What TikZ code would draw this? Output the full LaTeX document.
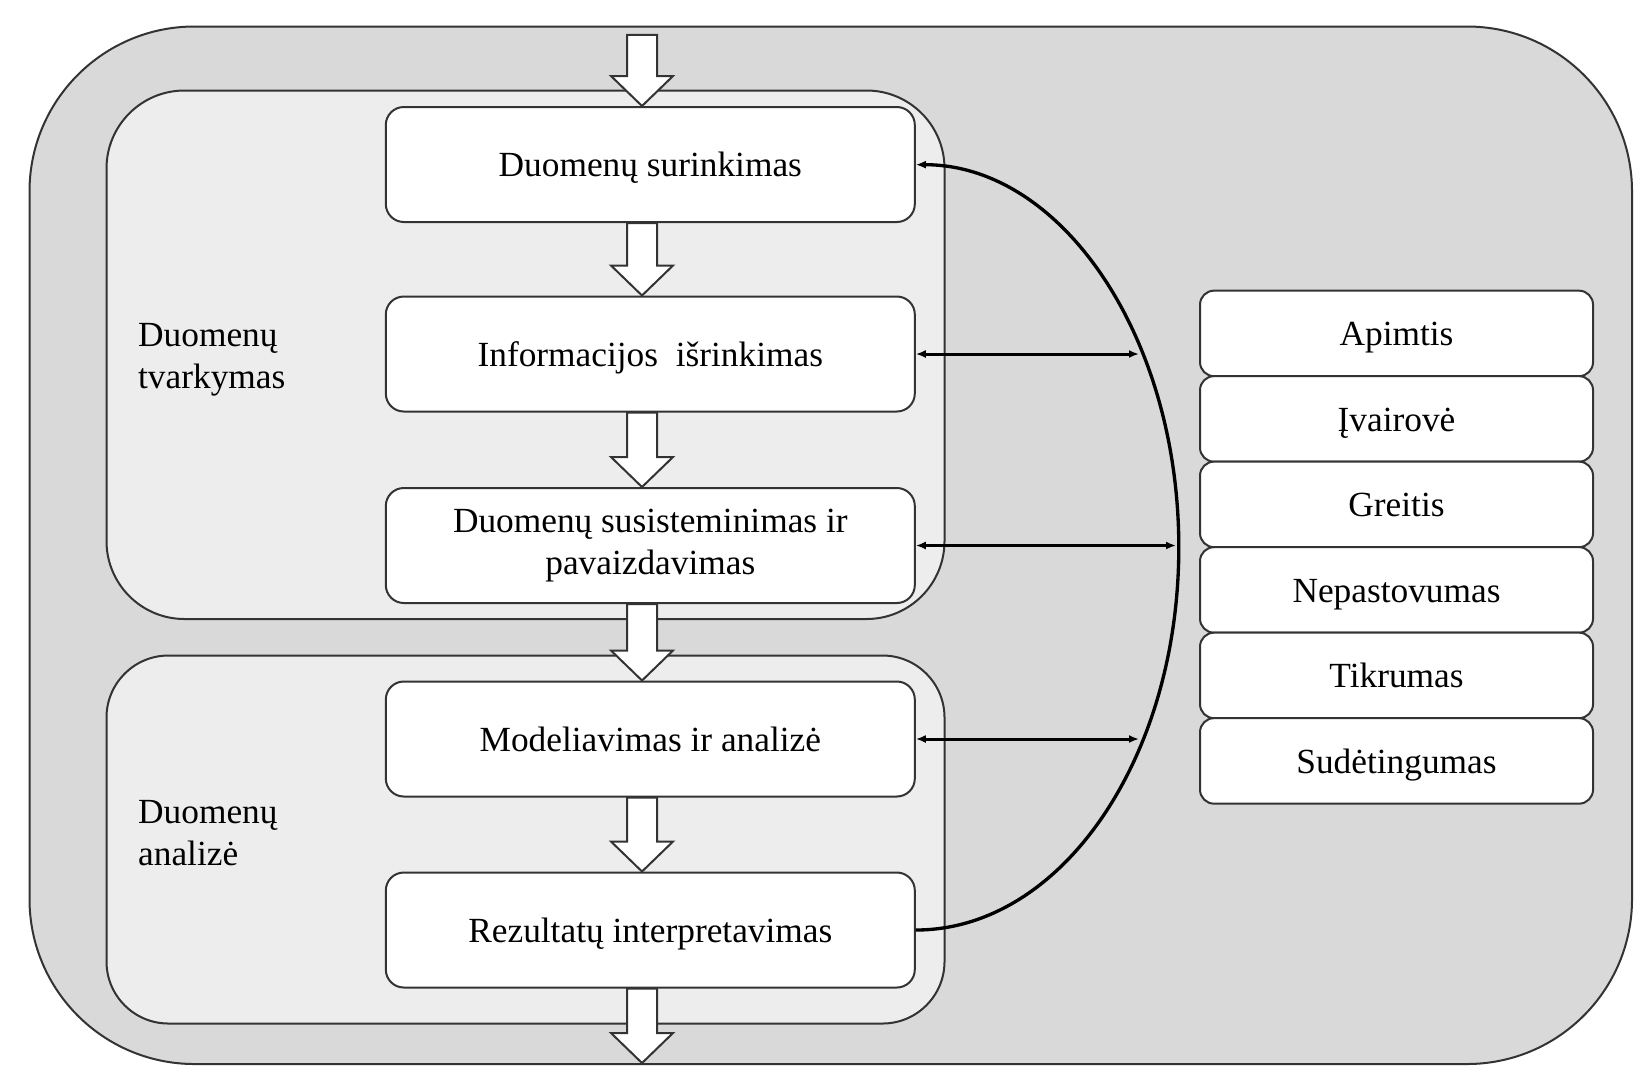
\documentclass[tikz,border=0pt]{standalone}
\usepackage{fontspec}
\setmainfont{Liberation Serif}
\usetikzlibrary{arrows.meta,calc}

\newcommand{\bigarrow}[2]{%
  \draw[bigarr] let \p1=(#1), \p2=(#2) in
    (\x1-4.5pt,\y1) -- (\x1+4.5pt,\y1) -- (\x1+4.5pt,\y2+9pt) -- (\x1+9.3pt,\y2+9pt)
    -- (\x1,\y2) -- (\x1-9.3pt,\y2+9pt) -- (\x1-4.5pt,\y2+9pt) -- cycle;}

\begin{document}
\begin{tikzpicture}[x=0.3pt, y=-0.3pt,
    txt/.style={font=\fontsize{10.6}{12.6}\selectfont},
    stepbox/.style={txt, draw=black!80, line width=0.6pt, fill=white, rounded corners=5.4pt,
      minimum width=158.7pt, minimum height=34.5pt, align=center, inner sep=0pt,
      text height=8pt, text depth=0.7pt},
    propbox/.style={txt, draw=black!80, line width=0.6pt, fill=white, rounded corners=4.2pt,
      minimum width=117.9pt, minimum height=25.65pt, inner sep=0pt,
      text height=8pt, text depth=0.7pt},
    bigarr/.style={draw=black!80, line width=0.6pt, fill=white},
    link/.style={line width=0.9pt, {Latex[length=3pt,width=2.4pt]}-{Latex[length=3pt,width=2.4pt]}}]
    \useasboundingbox (0, 0) rectangle (1652, 1084);
    \draw[black!80, line width=0.6pt, fill=black!15, rounded corners=49.5pt] (29.5, 26.5) rectangle (1632, 1064);
    \draw[black!80, line width=0.6pt, fill=black!7, rounded corners=23.4pt] (106.5, 90.5) rectangle (944.5, 619);
    \draw[black!80, line width=0.6pt, fill=black!7, rounded corners=18.6pt] (106.5, 655.5) rectangle (944.5, 1023.5);
    \node[txt, anchor=base west, align=left, inner sep=0pt] (tvark) at (137.5, 388.5) {Duomenų\\tvarkymas};
    \node[txt, anchor=base west, align=left, inner sep=0pt] (anal) at (137.5, 865) {Duomenų\\analizė};
    \node[stepbox] (b1) at (650.3, 164.5) {Duomenų surinkimas};
    \node[stepbox] (b2) at (650.3, 354) {Informacijos~ išrinkimas};
    \node[stepbox, text height=, text depth=] (b3) at (650.3, 545.5) {Duomenų susisteminimas ir\\pavaizdavimas};
    \node[stepbox] (b4) at (650.3, 739) {Modeliavimas ir analizė};
    \node[stepbox] (b5) at (650.3, 930) {Rezultatų interpretavimas};
    \node[propbox] (p1) at (1396.5, 333.4) {Apimtis};
    \node[propbox] (p2) at (1396.5, 418.9) {Įvairovė};
    \node[propbox] (p3) at (1396.5, 504.4) {Greitis};
    \node[propbox] (p4) at (1396.5, 589.9) {Nepastovumas};
    \node[propbox] (p5) at (1396.5, 675.4) {Tikrumas};
    \node[propbox] (p6) at (1396.5, 760.9) {Sudėtingumas};
    \coordinate (ax) at (642, 0);
    \coordinate (in) at (642, 34.8);
    \coordinate (out) at (642, 1063);
    \bigarrow{in}{b1.north -| ax}
    \bigarrow{b1.south -| ax}{b2.north -| ax}
    \bigarrow{b2.south -| ax}{b3.north -| ax}
    \bigarrow{b3.south -| ax}{b4.north -| ax}
    \bigarrow{b4.south -| ax}{b5.north -| ax}
    \bigarrow{b5.south -| ax}{out}
    \draw[line width=1pt, -{Latex[length=3pt,width=2.4pt]}] (b5.east) arc[start angle=-90, end angle=90, x radius=78.9pt, y radius=114.8pt];
    \coordinate (k2) at (1139, 354);
    \coordinate (k3) at (1176, 545.5);
    \coordinate (k4) at (1139, 739);
    \draw[link] (b2.east) -- (k2);
    \draw[link] (b3.east) -- (k3);
    \draw[link] (b4.east) -- (k4);
\end{tikzpicture}
\end{document}
